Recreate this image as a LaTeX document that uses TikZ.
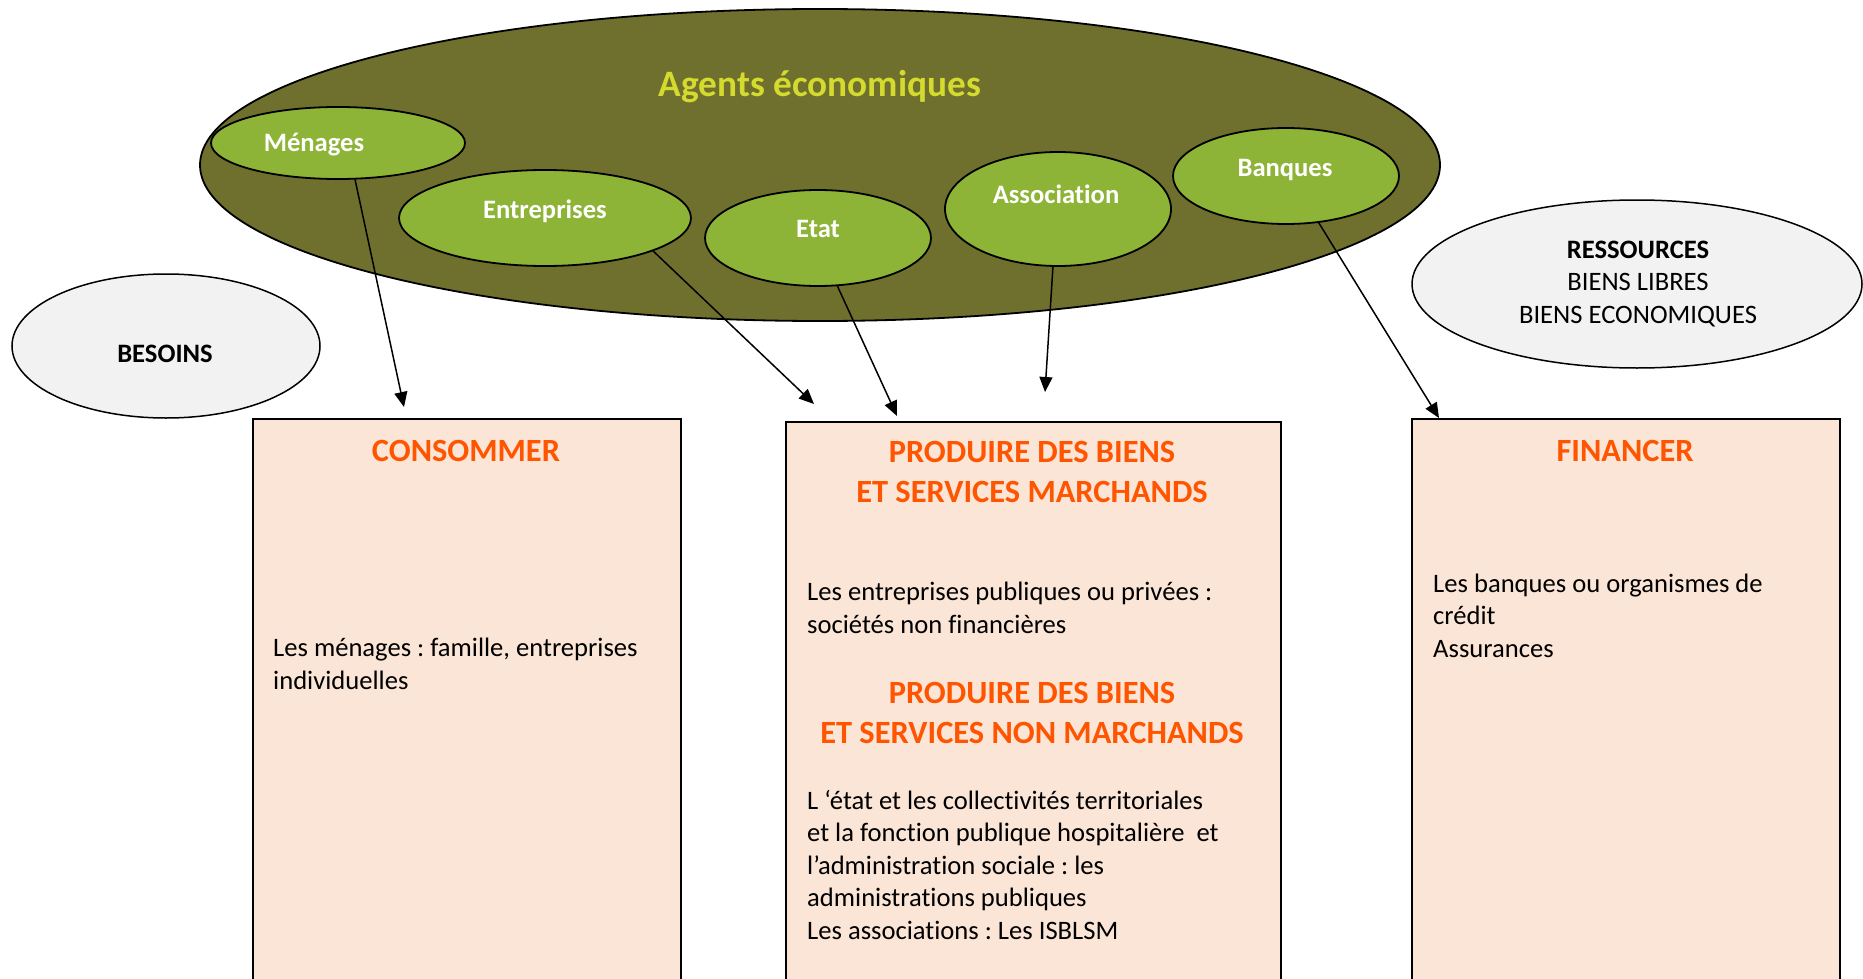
\documentclass[tikz,border=0pt]{standalone}
\usepackage{fontspec}
\setmainfont{Carlito}[Ligatures=NoCommon]
\usepackage{tikz}
\usetikzlibrary{shapes.geometric,arrows.meta}
\frenchspacing

\definecolor{agentolive}{RGB}{111,112,45}
\definecolor{agentgreen}{RGB}{141,179,55}
\definecolor{titleyellow}{RGB}{212,218,46}
\definecolor{greyfill}{RGB}{242,242,242}
\definecolor{boxfill}{RGB}{251,229,214}
\definecolor{headorange}{RGB}{255,85,0}

\begin{document}
\begin{tikzpicture}[x=1pt, y=-1pt,
  bigagent/.style={ellipse, draw, line width=1.8pt, fill=agentolive, inner sep=0pt},
  agent/.style={ellipse, draw, line width=1.8pt, fill=agentgreen, inner sep=0pt},
  greyell/.style={ellipse, draw, line width=1.5pt, fill=greyfill, inner sep=0pt},
  actbox/.style={rectangle, draw, line width=1.8pt, fill=boxfill, inner sep=0pt, anchor=north west},
  agentlbl/.style={text=white, font=\bfseries\fontsize{26.6}{32}\selectfont, inner sep=0pt, anchor=base},
  head/.style={text=headorange, font=\bfseries\fontsize{32.4}{40}\selectfont, inner sep=0pt, anchor=base, align=center},
  body/.style={font=\fontsize{26.6}{32.5}\selectfont, inner sep=0pt, anchor=base west, align=left},
  link/.style={-{Triangle[length=15pt,width=13pt]}, line width=1.5pt}]
  \useasboundingbox (0,0) rectangle (1863,979);
  \clip (0,0) rectangle (1863,979);

  % the three boxes (base = last line)
  \node[actbox, minimum width=428pt, minimum height=600pt] (con) at (252,418) {};
  \node[actbox, minimum width=495pt, minimum height=600pt] (pro) at (785,421) {};
  \node[actbox, minimum width=428pt, minimum height=600pt] (fin) at (1411,418) {};

  \node[head] (hcon) at (466,461) {CONSOMMER};
  \node[body] (tcon) at (273,689) {Les ménages : famille, entreprises\\individuelles};

  \node[head] (hpro1) at (1032,502) {PRODUIRE DES BIENS\\ET SERVICES MARCHANDS};
  \node[body] (tpro1) at (807,633) {Les entreprises publiques ou privées :\\sociétés non financières};
  \node[head] (hpro2) at (1032,743) {PRODUIRE DES BIENS\\ET SERVICES NON MARCHANDS};
  \node[body] (tpro2) at (807,939) {L ‘état et les collectivités territoriales\\et la fonction publique hospitalière~ et\\l’administration sociale : les\\administrations publiques\\Les associations : Les ISBLSM};

  \node[head] (hfin) at (1625,461) {FINANCER};
  \node[body] (tfin) at (1433,657) {Les banques ou organismes de\\crédit\\Assurances};

  % besoins / ressources
  \node[greyell, minimum width=308pt, minimum height=144pt] (bes) at (166,346) {};
  \node[font=\bfseries\fontsize{26.6}{32}\selectfont, inner sep=0pt, anchor=base] (lbes) at (165,362) {BESOINS};
  \node[greyell, minimum width=450pt, minimum height=168pt] (res) at (1637,284) {};
  \node[font=\fontsize{26.6}{32.5}\selectfont, inner sep=0pt, anchor=base, align=center] (lres) at (1638,323) {\textbf{RESSOURCES}\\BIENS LIBRES\\BIENS ECONOMIQUES};

  % agents
  \node[bigagent, minimum width=1240pt, minimum height=312pt] (agents) at (820,165) {};
  \node[text=titleyellow, font=\bfseries\fontsize{37.3}{44}\selectfont, inner sep=0pt, anchor=base] (ttl) at (820,97) {Agents économiques};

  \node[agent, minimum width=254pt, minimum height=72pt] (men) at (338,143) {};
  \node[agent, minimum width=292pt, minimum height=96pt] (ent) at (545,218) {};
  \node[agent, minimum width=226pt, minimum height=96pt] (eta) at (818,238) {};
  \node[agent, minimum width=226pt, minimum height=114pt] (ass) at (1058,209) {};
  \node[agent, minimum width=226pt, minimum height=96pt] (ban) at (1286,176) {};

  \node[agentlbl] (lmen) at (314,151) {Ménages};
  \node[agentlbl] (lent) at (545,218) {Entreprises};
  \node[agentlbl] (leta) at (818,237) {Etat};
  \node[agentlbl] (lass) at (1056,203) {Association};
  \node[agentlbl] (lban) at (1285,176) {Banques};

  % arrows
  \coordinate (tipcon) at (404,407);
  \coordinate (tipent) at (814,404);
  \coordinate (tipeta) at (897,416);
  \coordinate (tipass) at (1045,392);
  \coordinate (tipfin) at (1439,418);
  \draw[link] (men.-65) -- (tipcon);
  \draw[link] (ent.-17) -- (tipent);
  \draw[link] (eta.-68) -- (tipeta);
  \draw[link] (ass.-95) -- (tipass);
  \draw[link] (ban.-55) -- (tipfin);
\end{tikzpicture}
\end{document}
